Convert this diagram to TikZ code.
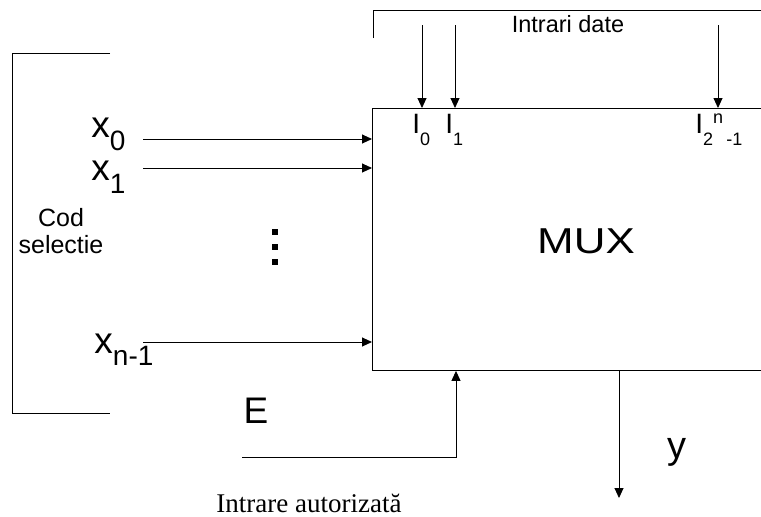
\documentclass[tikz,border=0pt]{standalone}
\usepackage{fontspec}
\setmainfont{Liberation Sans}
\newfontfamily\serifrm{Liberation Serif}
\usepackage{tikz}
\usetikzlibrary{arrows.meta}

\newcommand{\fsz}[1]{\fontsize{#1}{#1}\selectfont}

\begin{document}
\begin{tikzpicture}[
  x=1pt, y=-1pt, line width=0.9pt,
  >={Triangle[length=10pt,width=9pt]},
  L/.style={inner sep=0pt, anchor=base west, font=\fsz{37}},
  I/.style={inner sep=0pt, anchor=base west, font=\fsz{28}},
]
\useasboundingbox (0,0) rectangle (761,517);

%--- MUX BLOCK ---
\node[draw, anchor=north west, minimum width=410pt, minimum height=262pt, inner sep=0pt]
  (mux) at (372,108) {};
\node[font=\fsz{36}] (muxlbl) at (586,241) {\scalebox{1.22}[1]{MUX}};

%--- DATA INPUTS ---
\draw (373,38) -- (373,10) -- (775,10);
\node[font=\fsz{23.5}, anchor=base] (date) at (568,32) {Intrari date};
\coordinate (d0) at (422,25);
\coordinate (d1) at (455,25);
\coordinate (dn) at (718,25);
\node[I] (i0) at (412,133) {I\raisebox{-12pt}{\fsz{18}0}};
\node[I] (i1) at (445,133) {I\raisebox{-12pt}{\fsz{18}1}};
\node[I] (in) at (695,133)
  {I\raisebox{-12pt}{\fsz{18}2\raisebox{22pt}{n}\,-1}};

%--- SELECTION CODE ---
\draw (110,53) -- (12,53) -- (12,413) -- (110,413);
\node[font=\fontsize{25}{27}\selectfont, align=center] (cod) at (61,231) {Cod\\selectie};
\node[L] (x0) at (91,137) {x\raisebox{-13pt}{\fsz{28}0}};
\node[L] (x1) at (91,180) {x\raisebox{-13pt}{\fsz{28}1}};
\node[L] (xn) at (94,353) {x\raisebox{-12pt}{\fsz{28}n-1}};
\coordinate (s0) at (143,139);
\coordinate (s1) at (143,168);
\coordinate (sn) at (143,342);
\foreach \dy in {229,244,259}
  \fill (272,\dy) rectangle ++(6,6);

%--- ENABLE ---
\node[font=\fsz{37}, anchor=base] (E) at (256,423) {E};
\coordinate (en) at (242,457);
\node[font=\serifrm\fsz{27}, anchor=base] (auth) at (309,512) {Intrare autorizată};

%--- OUTPUT ---
\coordinate (yout) at (619,498);
\node[font=\fsz{38}] (ylbl) at (677,452) {y};

%--- ARROWS ---
\draw[->] (s0) -- (s0 -| mux.west);
\draw[->] (s1) -- (s1 -| mux.west);
\draw[->] (sn) -- (sn -| mux.west);
\draw[->] (d0) -- (d0 |- mux.north);
\draw[->] (d1) -- (d1 |- mux.north);
\draw[->] (dn) -- (dn |- mux.north);
\draw[->] (en) -| ([xshift=84pt]mux.south west);
\draw[->] (yout |- mux.south) -- (yout);
\end{tikzpicture}
\end{document}
